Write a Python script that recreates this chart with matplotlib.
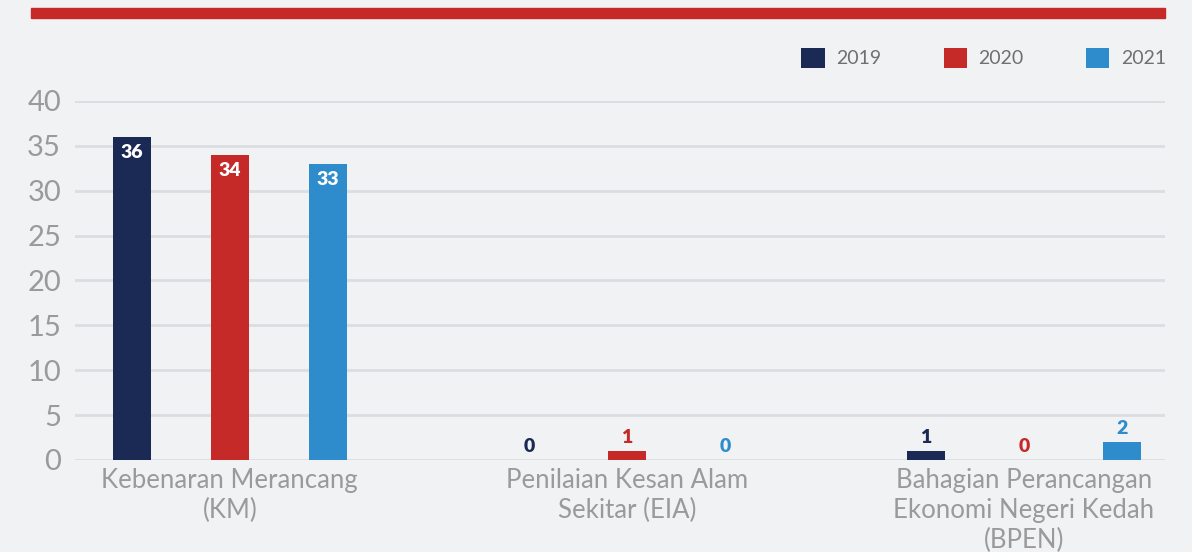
import numpy as np
import matplotlib.pyplot as plt
from matplotlib.patches import Rectangle, Patch

# Datos
categorias = ['Kebenaran Merancang\n(KM)',
              'Penilaian Kesan Alam\nSekitar (EIA)',
              'Bahagian Perancangan\nEkonomi Negeri Kedah\n(BPEN)']
anios = ['2019', '2020', '2021']
v2019 = [36, 0, 1]
v2020 = [34, 1, 0]
v2021 = [33, 0, 2]
colores = ['#1b2a55', '#c62a28', '#2e8ccd']

plt.rcParams['font.family'] = ['Lato', 'DejaVu Sans']
fondo = '#f1f2f4'

fig = plt.figure(figsize=(11.92, 5.52), dpi=100, facecolor=fondo)
ax = fig.add_axes([0.0629, 0.1667, 0.9144, 0.6504], facecolor=fondo)

x = np.arange(len(categorias))
desp = 0.247
ancho = 0.096
series = [v2019, v2020, v2021]

for i, (vals, col) in enumerate(zip(series, colores)):
    pos = x + (i - 1) * desp
    ax.bar(pos, vals, width=ancho, color=col, zorder=3)
    for p, v in zip(pos, vals):
        if v >= 10:
            ax.text(p, v - 0.8, str(v), ha='center', va='top', color='white',
                    fontsize=14, fontweight='heavy', zorder=4)
        else:
            ax.text(p, v + 0.6, str(v), ha='center', va='bottom', color=col,
                    fontsize=14, fontweight='heavy', zorder=4)

ax.set_xlim(-0.390, 2.355)
ax.set_ylim(0, 40)
ax.set_yticks(range(0, 41, 5))
ax.yaxis.grid(True, color='#dcdde0', linewidth=2, zorder=0)
ax.set_axisbelow(True)
for s in ax.spines.values():
    s.set_visible(False)
ax.tick_params(axis='y', length=0, labelsize=21, labelcolor='#9a9a9a', pad=10)
ax.set_xticks(x)
ax.set_xticklabels(categorias, fontsize=18.5, color='#9a9a9a', linespacing=1.25)
ax.tick_params(axis='x', length=0, pad=6)

# Leyenda
handles = [Patch(facecolor=c, edgecolor='none') for c in colores]
fig.legend(handles, anios, loc='upper right', bbox_to_anchor=(0.993, 0.945),
           ncol=3, frameon=False, fontsize=14, labelcolor='#707070',
           handlelength=1.2, handleheight=1.2, handletextpad=0.6,
           columnspacing=3.2)

# Barra roja superior
fig.patches.append(Rectangle((31 / 1192, 1 - 18 / 552), 1134 / 1192, 10 / 552,
                             transform=fig.transFigure, color='#c62a28'))

fig.savefig('out.png', dpi=100, facecolor=fondo)
